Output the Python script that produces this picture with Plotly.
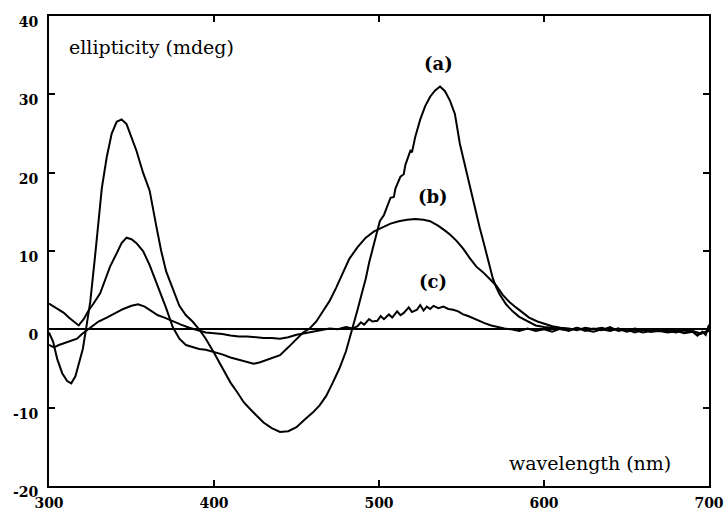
import plotly.graph_objects as go

# ---------------- data ----------------
wl_a = [300, 302.5, 305, 308, 311, 313.5, 316, 318, 320.5, 323, 325, 328, 332, 335, 338, 341, 344, 347,
        350, 353, 357, 361, 365, 368, 371, 375, 379, 383, 387, 391, 395, 400, 405, 410, 414, 418, 422,
        426, 430, 435, 440, 445, 450, 455, 460, 464, 468, 472, 476, 480, 484, 487, 489.5, 492, 494, 497,
        500.5, 503, 505, 507, 509, 510, 513, 515, 516, 519, 520, 522, 525, 528, 531, 534, 537, 540, 543,
        546, 549, 552, 555, 558, 561, 564, 567, 569, 571, 573, 577, 581, 585, 590, 595, 600, 605, 610,
        615, 620, 625, 630, 635, 640, 645, 650, 655, 660, 665, 670, 675, 680, 685, 690, 693, 696, 698, 700]
ell_a = [-0.4, -1.6, -3.8, -5.6, -6.6, -6.9, -6.0, -4.5, -2.5, 0.8, 3.5, 9.5, 18.0, 22.0, 25.0, 26.5, 26.8, 26.2,
         24.5, 22.8, 20.0, 17.7, 13.2, 10.0, 7.4, 5.2, 3.0, 1.8, 1.0, 0.0, -1.2, -3.0, -4.9, -6.8, -8.0, -9.3, -10.2,
         -11.0, -11.9, -12.6, -13.1, -13.0, -12.5, -11.5, -10.6, -9.7, -8.5, -6.8, -5.0, -2.8, 0.1, 2.5, 4.5, 6.5, 8.5, 11.0,
         13.8, 14.6, 15.6, 16.8, 16.9, 18.0, 19.5, 19.8, 21.0, 22.8, 22.6, 24.6, 26.8, 28.5, 29.7, 30.5, 31.0, 30.4, 29.2,
         27.5, 23.7, 21.0, 18.1, 15.5, 13.0, 10.6, 8.3, 6.5, 5.4, 4.5, 3.2, 2.3, 1.6, 1.0, 0.5, 0.3, 0.2, 0.0,
         -0.1, 0.2, -0.2, 0.1, -0.1, 0.3, -0.2, 0.0, -0.4, -0.1, -0.3, -0.2, -0.4, -0.2, -0.5, -0.3, -0.8, -0.3, -0.7, 0.6]

wl_b = [300, 303, 306, 309, 312, 315, 318, 321, 324, 327, 331, 334, 337, 341, 344, 347, 350, 353, 357, 361,
        365, 368, 371, 375, 379, 383, 387, 391, 395, 400, 405, 410, 415, 420, 424, 428, 432, 436, 440, 445,
        450, 454, 458, 462, 466, 470, 474, 478, 482, 487, 492, 497, 502, 507, 512, 517, 522, 527, 531, 536,
        540, 543, 547, 551, 555, 559, 563, 567, 571, 575, 579, 583, 587, 591, 596, 600, 605, 610, 615, 620,
        625, 630, 635, 640, 645, 650, 655, 660, 665, 670, 675, 680, 685, 690, 695, 700]
ell_b = [3.3, 2.9, 2.5, 2.1, 1.5, 1.0, 0.5, 1.3, 2.4, 3.3, 4.6, 6.3, 8.0, 9.7, 11.0, 11.7, 11.5, 11.0, 10.0, 8.2,
         6.1, 4.3, 2.7, 0.3, -1.2, -2.0, -2.3, -2.5, -2.6, -2.9, -3.2, -3.6, -3.9, -4.2, -4.4, -4.2, -3.9, -3.6, -3.3, -2.3,
         -1.2, -0.4, 0.1, 1.0, 2.3, 3.6, 5.3, 7.2, 9.0, 10.5, 11.7, 12.5, 13.0, 13.5, 13.8, 14.0, 14.1, 14.0, 13.8, 13.2,
         12.6, 12.1, 11.3, 10.3, 9.1, 8.0, 7.3, 6.5, 5.6, 4.4, 3.5, 2.8, 2.1, 1.5, 1.0, 0.7, 0.4, 0.2, 0.1, -0.1,
         0.2, 0.0, 0.2, -0.1, 0.1, -0.2, 0.1, -0.1, -0.3, 0.0, -0.2, -0.4, -0.1, -0.3, -0.5, -0.2]

wl_c = [300, 303, 306, 310, 314, 317, 320, 323, 326, 330, 335, 340, 345, 350, 354, 358, 362, 366, 370, 375,
        380, 385, 390, 395, 400, 405, 410, 415, 420, 425, 430, 435, 440, 445, 450, 455, 460, 465, 470, 475,
        480, 484, 487, 489, 491, 494, 496, 499, 501, 503, 506, 508, 511, 513, 515, 518, 520, 523, 525, 527,
        529, 531, 533, 536, 539, 542, 545, 548, 551, 554, 557, 560, 564, 568, 572, 576, 580, 585,
        590, 595, 600, 605, 610, 615, 620, 625, 630, 635, 640, 645, 650, 655, 660, 665, 670, 675, 680, 685,
        690, 695, 700]
ell_c = [-2.0, -2.3, -2.0, -1.7, -1.4, -1.2, -0.6, -0.1, 0.4, 1.0, 1.5, 2.1, 2.6, 3.0, 3.2, 2.9, 2.4, 1.8, 1.5, 1.0,
         0.6, 0.2, -0.1, -0.4, -0.5, -0.6, -0.8, -0.9, -0.9, -1.0, -1.1, -1.1, -1.2, -1.0, -0.7, -0.5, -0.3, -0.1, 0.1, 0.0,
         0.3, 0.1, 0.4, 0.9, 0.6, 1.3, 1.0, 1.1, 1.7, 1.3, 1.9, 1.5, 2.3, 1.8, 2.1, 2.8, 2.2, 2.5, 3.1, 2.4,
         2.9, 2.6, 3.0, 2.7, 2.9, 2.6, 2.5, 2.3, 1.9, 1.7, 1.4, 1.1, 0.8, 0.5, 0.3, 0.1, 0.0, -0.2,
         0.1, -0.2, 0.0, -0.3, 0.1, -0.2, 0.2, -0.1, -0.3, 0.0, -0.2, 0.1, -0.3, -0.1, -0.4, -0.2, 0.0, -0.3, -0.1, -0.4,
         -0.2, -0.6, -0.1]

x_ticks = [300, 400, 500, 600, 700]
x_tick_text = ["300", "400", "500", "600", "700"]
y_ticks = [-20, -10, 0, 10, 20, 30, 40]
y_tick_text = ["-20", "-10", "0", "10", "20", "30", "40"]

series = [("(a)", wl_a, ell_a), ("(b)", wl_b, ell_b), ("(c)", wl_c, ell_c)]

# ---------------- figure ----------------
fig = go.Figure()
for name, xs, ys in series:
    fig.add_trace(go.Scatter(x=xs, y=ys, mode="lines", name=name,
                             line=dict(color="black", width=2), showlegend=False))

tick_font = dict(family="DejaVu Serif", size=14, color="black", weight="bold")
axis_common = dict(showline=True, linecolor="black", linewidth=2, mirror="ticks",
                   ticks="inside", ticklen=6, tickwidth=2, tickcolor="black",
                   showgrid=False, tickfont=tick_font, automargin=False)

fig.update_xaxes(range=[300, 700], tickvals=x_ticks, ticktext=x_tick_text,
                 zeroline=False, ticklabelstandoff=3, **axis_common)
fig.update_yaxes(range=[-20, 40], tickvals=y_ticks, ticktext=y_tick_text,
                 zeroline=True, zerolinecolor="black", zerolinewidth=1.5,
                 ticklabelshift=6, ticklabelstandoff=6, **axis_common)

label_font = dict(family="DejaVu Serif", size=19, color="black")
curve_font = dict(family="DejaVu Serif", size=18, color="black", weight="bold")
fig.add_annotation(x=362.4, y=36.0, xref="x", yref="y", text="ellipticity (mdeg)",
                   showarrow=False, font=label_font)
fig.add_annotation(x=627.9, y=-17.1, xref="x", yref="y", text="wavelength (nm)",
                   showarrow=False, font=label_font)
for txt, xx, yy in [("(a)", 535.8, 34.0), ("(b)", 532.9, 17.0), ("(c)", 532.9, 6.1)]:
    fig.add_annotation(x=xx, y=yy, xref="x", yref="y", text=txt, showarrow=False, font=curve_font)

fig.update_layout(width=726, height=512, margin=dict(l=49, r=17, t=16, b=26),
                  plot_bgcolor="white", paper_bgcolor="white")

fig.write_html("out.html")
